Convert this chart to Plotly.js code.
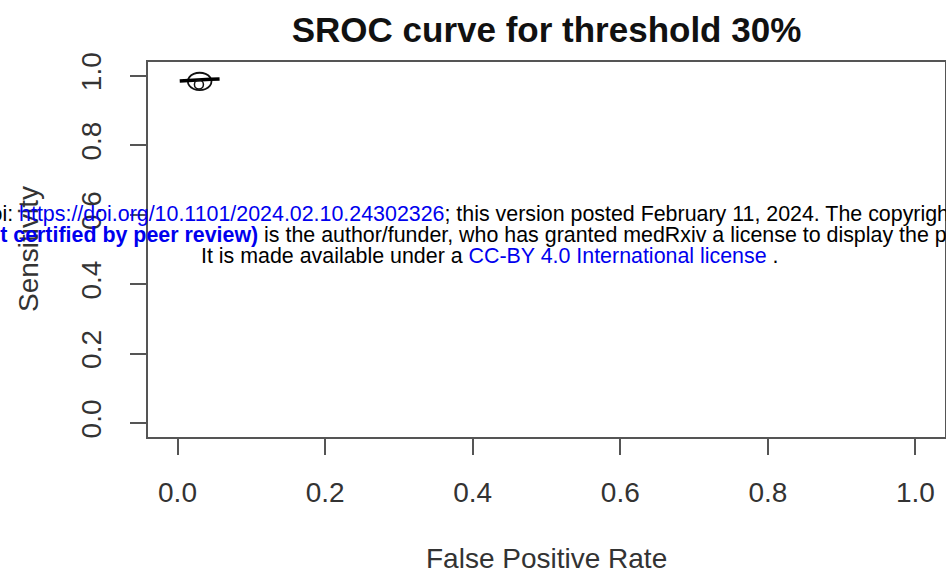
<!DOCTYPE html>
<html>
<head>
<meta charset="utf-8">
<script src="https://cdn.plot.ly/plotly-3.0.1.min.js"></script>
<style>html,body{margin:0;padding:0;background:#fff;}#chart{width:946px;height:579px;}</style>
</head>
<body>
<div id="chart"></div>
<script>
// SROC curve (false positive rate vs sensitivity)
const srocFpr = [0.003, 0.015, 0.030, 0.045, 0.057];
const srocSens = [0.985, 0.987, 0.989, 0.990, 0.991];
// 95% confidence region
const ellFpr = [0.046, 0.0439, 0.038, 0.030, 0.022, 0.0161, 0.014, 0.0161, 0.022, 0.030, 0.038, 0.0439, 0.046];
const ellSens = [0.984, 0.9965, 1.0057, 1.009, 1.0057, 0.9965, 0.984, 0.9715, 0.9623, 0.959, 0.9623, 0.9715, 0.984];
// summary point
const sumFpr = [0.029];
const sumSens = [0.975];
// axis ticks
const tickVals = [0, 0.2, 0.4, 0.6, 0.8, 1.0];
const tickText = ['0.0', '0.2', '0.4', '0.6', '0.8', '1.0'];
const titleText = 'SROC curve for threshold 30%';
const xTitle = 'False Positive Rate';
const yTitle = 'Sensitivity';
const wm1 = 'medRxiv preprint doi: <span style="color:#0000ee">https://doi.org/10.1101/2024.02.10.24302326</span>; this version posted February 11, 2024. The copyright holder for this preprint';
const wm2 = '<b><span style="color:#0000ee">(which was not certified by peer review)</span></b> is the author/funder, who has granted medRxiv a license to display the preprint in perpetuity.';
const wm3 = 'It is made available under a <span style="color:#0000ee">CC-BY 4.0 International license</span> .';

const FONT = 'Liberation Sans, Arial, Helvetica, sans-serif';
const L = 148, T = 62, W = 797, H = 375;
const px = p => (p - L) / W;
const py = q => (T + H - q) / H;

const traces = [
  {x: ellFpr, y: ellSens, mode: 'lines', line: {color: '#111', width: 1.8, shape: 'spline'}, hoverinfo: 'skip', showlegend: false},
  {x: srocFpr, y: srocSens, mode: 'lines', line: {color: '#000', width: 3.5}, showlegend: false},
  {x: sumFpr, y: sumSens, mode: 'markers', marker: {symbol: 'circle-open', size: 9, color: '#111', line: {width: 1.5}}, showlegend: false}
];

const axisCommon = {
  range: [-0.04, 1.04], tickvals: tickVals, ticktext: tickText,
  ticks: 'outside', ticklen: 16, tickwidth: 2, tickcolor: '#555',
  showline: true, mirror: true, linecolor: '#555', linewidth: 2,
  showgrid: false, zeroline: false,
  tickfont: {family: FONT, size: 28, color: '#333'},
  ticklabelstandoff: 18, fixedrange: true
};

const layout = {
  width: 946, height: 579,
  margin: {l: L, r: 946 - L - W, t: T, b: 579 - T - H},
  paper_bgcolor: '#fff', plot_bgcolor: '#fff',
  title: {text: '<b>' + titleText + '</b>', font: {family: FONT, size: 35, color: '#111'},
          x: 0.5, xref: 'paper', xanchor: 'center', y: 1 - 30 / 579, yref: 'container', yanchor: 'middle'},
  xaxis: Object.assign({}, axisCommon, {ticklabelstandoff: 13}),
  yaxis: Object.assign({}, axisCommon, {tickangle: -90}),
  annotations: [
    {text: xTitle, xref: 'paper', yref: 'paper', x: 0.5, y: py(558), xanchor: 'center', yanchor: 'middle',
     showarrow: false, font: {family: FONT, size: 28, color: '#333'}},
    {text: yTitle, xref: 'paper', yref: 'paper', x: px(28), y: py(249), xanchor: 'center', yanchor: 'middle',
     textangle: -90, showarrow: false, font: {family: FONT, size: 28, color: '#333'}},
    {text: wm1, xref: 'paper', yref: 'paper', x: px(-191), y: py(214), xanchor: 'left', yanchor: 'middle',
     showarrow: false, font: {family: FONT, size: 21.4, color: '#000'}},
    {text: wm2, xref: 'paper', yref: 'paper', x: px(-148), y: py(235), xanchor: 'left', yanchor: 'middle',
     showarrow: false, font: {family: FONT, size: 21.4, color: '#000'}},
    {text: wm3, xref: 'paper', yref: 'paper', x: px(490), y: py(256), xanchor: 'center', yanchor: 'middle',
     showarrow: false, font: {family: FONT, size: 21.4, color: '#000'}}
  ]
};

Plotly.newPlot('chart', traces, layout, {displayModeBar: false, staticPlot: true});
</script>
</body>
</html>
